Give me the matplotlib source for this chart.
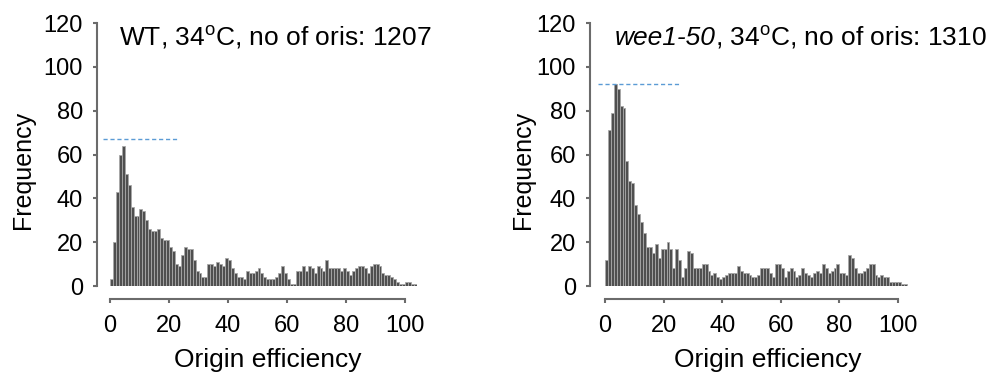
import numpy as np
import matplotlib
matplotlib.use('Agg')
import matplotlib.pyplot as plt

plt.rcParams['font.family'] = ['Liberation Sans', 'DejaVu Sans']
plt.rcParams['mathtext.fontset'] = 'custom'
plt.rcParams['mathtext.rm'] = 'Liberation Sans'
plt.rcParams['mathtext.it'] = 'Liberation Sans:italic'

# counts per 1%-wide efficiency bin
wt_counts = [3, 20, 43, 60, 64, 51, 46, 36, 32, 32,
             35, 34, 30, 26, 25, 25, 26, 22, 21, 21,
             18, 16, 10, 9, 14, 18, 17, 17, 12, 7,
             6, 4, 4, 10, 10, 9, 11, 10, 9, 13,
             12, 8, 6, 4, 4, 3, 7, 6, 6, 7,
             8, 6, 4, 3, 3, 3, 4, 6, 9, 6,
             3, 1, 1, 7, 7, 9, 7, 9, 8, 6,
             9, 8, 7, 12, 8, 8, 8, 8, 7, 8,
             7, 5, 7, 8, 9, 9, 8, 6, 9, 10,
             10, 9, 6, 5, 5, 4, 3, 2, 1, 1,
             2, 2, 1, 1]
wee1_counts = [12, 71, 79, 92, 90, 82, 81, 57, 48, 47,
               37, 33, 29, 24, 18, 18, 15, 19, 13, 17,
               17, 20, 17, 8, 17, 12, 4, 8, 16, 15,
               8, 8, 8, 10, 10, 7, 5, 6, 4, 3,
               4, 5, 6, 6, 6, 9, 7, 6, 6, 5,
               4, 4, 5, 8, 8, 8, 6, 4, 10, 10,
               8, 4, 7, 8, 7, 4, 5, 8, 6, 5,
               4, 6, 7, 6, 10, 8, 6, 7, 8, 10,
               6, 6, 5, 14, 13, 8, 6, 6, 7, 8,
               10, 10, 5, 4, 5, 4, 4, 2, 2, 2,
               2, 1, 1]

x_ticks = [0, 20, 40, 60, 80, 100]
y_ticks = [0, 20, 40, 60, 80, 100, 120]

# title = (italic part, upright part)
wt_title = ('', r'WT, 34$^{\mathrm{o}}$C, no of oris: 1207')
wee1_title = ('wee1-50', r', 34$^{\mathrm{o}}$C, no of oris: 1310')
wt_peak = 67
wee1_peak = 92

axis_grey = '#6b6b6b'

fig = plt.figure(figsize=(9.9, 3.75), dpi=100)
ax1 = fig.add_axes([0.1111, 0.2373, 0.31, 0.7013])
ax2 = fig.add_axes([0.6111, 0.2373, 0.3078, 0.7013])
renderer = fig.canvas.get_renderer()


def draw_panel(ax, counts, title, peak, line_end, spine_off, ylab_x, xlab_x):
    bins = np.arange(len(counts))
    ax.bar(bins, counts, width=1, align='edge', color='#4f4f4f',
           edgecolor='#a8a8a8', linewidth=0.6)
    ax.plot([-2.5, line_end], [peak, peak], color='#5b9bd5', lw=1,
            ls=(0, (3, 2)), clip_on=False)

    ax.set_xlim(0, 104)
    ax.set_ylim(0, 120)
    for side in ['top', 'right']:
        ax.spines[side].set_visible(False)
    ax.spines['left'].set_position(('outward', spine_off))
    ax.spines['bottom'].set_position(('outward', 9))
    ax.spines['left'].set_bounds(0, 120)
    ax.spines['bottom'].set_bounds(0, 100)
    for side in ['left', 'bottom']:
        ax.spines[side].set_color(axis_grey)
        ax.spines[side].set_linewidth(1.5)

    ax.set_xticks(x_ticks)
    ax.set_yticks(y_ticks)
    ax.tick_params(direction='out', length=3, width=1.5, color=axis_grey,
                   labelsize=17)
    ax.tick_params(axis='x', pad=9)
    ax.tick_params(axis='y', pad=7)

    ax.set_xlabel('Origin efficiency', fontsize=19)
    ax.xaxis.set_label_coords(xlab_x, -0.235)
    ax.set_ylabel('Frequency', fontsize=18)
    ax.yaxis.set_label_coords(ylab_x, 0.44)

    x0 = 3.2
    if title[0]:
        t = ax.text(x0, 110, title[0], fontsize=19, style='italic',
                    ha='left', va='baseline')
        bb = t.get_window_extent(renderer)
        x0 = ax.transData.inverted().transform((bb.x1, 0))[0]
    ax.text(x0, 110, title[1], fontsize=19, ha='left', va='baseline')


draw_panel(ax1, wt_counts, wt_title, wt_peak, 23, 9.5, -0.244, 0.515)
draw_panel(ax2, wee1_counts, wee1_title, wee1_peak, 25.5, 11, -0.23, 0.533)

fig.savefig('out.png', dpi=100)
